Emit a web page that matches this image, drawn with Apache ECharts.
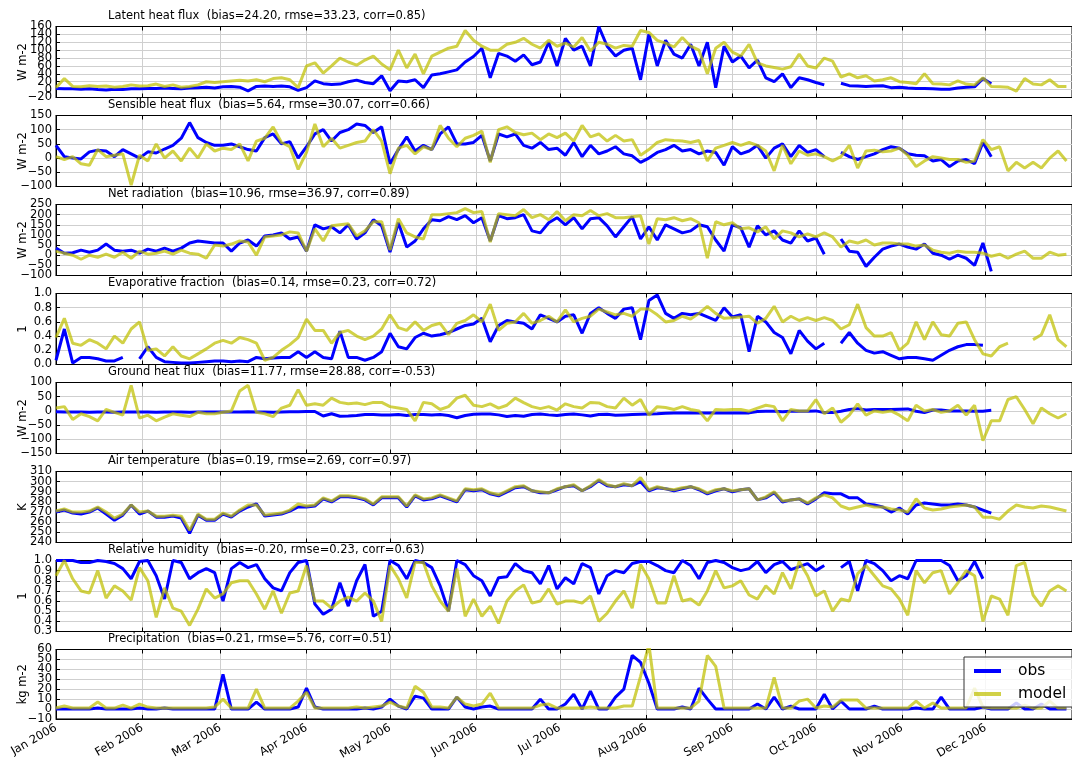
<!DOCTYPE html>
<html>
<head>
<meta charset="utf-8">
<script src="https://cdn.jsdelivr.net/npm/echarts@6/dist/echarts.min.js"></script>
<style>
html,body{margin:0;padding:0;background:#fff;}
#chart{width:1072px;height:762px;}
</style>
</head>
<body>
<div id="chart"></div>
<script>
// ---------- data (3-day samples starting 2006-01-01) ----------
const startDate = '2006-01-01';
const stepDays = 3;
const monthStarts = [0,31,59,90,120,151,181,212,243,273,304,334];
const monthLabels = ['Jan 2006','Feb 2006','Mar 2006','Apr 2006','May 2006','Jun 2006','Jul 2006','Aug 2006','Sep 2006','Oct 2006','Nov 2006','Dec 2006'];
const N = null;

const latentObs = [3,2,2,1,2,0,-1,1,0,2,2, 3,3,4,3,2,4,5,6,4, 7,8,6,-3,8,9,8,9,7,-2, 5,22,15,13,14,20,24,18,15,35,
 -3,22,20,25,5,37,40,45,50,70,84, 105,30,92,85,72,88,63,70,120,60, 130,100,110,60,160,110,85,100,105,25,
 140,60,125,90,80,115,60,120,5,110,70, 85,55,75,30,20,40,5,30,25,18, 12,N,16,10,9,8,9,10,5,6,
 4,3,3,2,1,1,4,6,7,28, 15,N,N,N,N,N,N,N,N,N];
const latentModel = [5,28,8,7,10,8,9,6,8,12,9, 10,14,8,12,6,8,12,20,18, 20,22,24,22,25,20,28,30,25,5, 60,68,42,60,80,70,62,75,85,65,
 50,100,55,90,40,85,95,105,110,150,125, 110,100,100,115,120,130,115,105,125,110, 118,108,132,98,120,115,105,112,110,150,
 145,125,118,108,132,110,100,40,105,120,95, 85,115,68,60,56,52,58,90,60,55, 80,72,32,40,30,35,22,25,30,20,
 18,15,40,15,14,12,22,14,12,30, 8,7,6,-4,28,14,12,25,8,8];

const sensibleObs = [45,5,0,-3,22,28,25,5,30,15,0, 22,18,32,45,70,125,72,55,45, 45,50,40,30,25,72,85,50,58,0, 40,85,100,60,90,100,120,115,90,110,
 -20,30,75,25,45,30,85,110,50,50,55, 80,-10,85,75,85,45,35,55,30,35, 10,55,5,45,15,25,40,15,8,-15,
 0,20,30,45,25,30,15,25,20,-25,40, 15,25,45,0,35,50,5,45,20,30, 5,N,20,5,-5,5,15,30,40,35,
 15,10,8,-10,-5,-30,-10,-5,-20,55, 5,N,N,N,N,N,N,N,N,N];
const sensibleModel = [5,-5,5,-20,-25,30,5,10,15,-95,10, -10,50,0,25,-10,35,0,50,25, 35,30,50,-10,60,70,110,55,40,-40, 20,120,40,70,35,45,55,60,100,60,
 -55,35,45,15,40,30,115,70,40,70,80, 95,-15,100,110,90,82,88,65,85,72, 88,60,115,75,85,60,80,60,65,10,
 30,55,65,62,60,55,62,-10,35,45,55, 45,55,45,25,-45,45,-20,25,10,15, 5,-10,5,45,-35,25,28,22,25,35,
 10,-30,-10,5,0,-5,-5,-15,-10,65, 30,40,-45,-15,-35,-15,-35,0,25,-10];

const netRadObs = [35,10,12,25,15,25,55,25,20,25,10, 30,20,35,20,35,60,70,65,60, 60,20,60,75,45,95,100,110,80,90, 20,150,130,140,110,150,80,110,175,145,
 15,160,40,70,130,175,170,190,175,195,160, 185,70,195,180,185,200,120,110,160,185, 150,185,130,180,185,145,90,140,190,80,
 140,75,150,130,110,120,150,140,75,20,150, 135,40,145,100,120,75,60,120,70,85, 5,N,80,20,15,-55,-10,30,45,55,
 40,30,55,10,0,-20,0,-15,-50,60, -80,N,N,N,N,N,N,N,N,N];
const netRadModel = [20,10,0,-20,0,-10,5,-10,15,-15,20, 5,10,20,5,25,10,5,-15,50, 45,55,70,65,0,90,95,100,115,110, 20,130,70,145,150,155,95,120,165,165,
 25,180,110,90,80,200,200,205,210,230,210, 215,65,205,200,195,225,185,200,175,215, 170,200,195,220,195,205,185,185,190,195,
 55,180,175,185,170,180,160,-15,165,150,160, 130,135,115,140,80,120,110,90,105,90, 110,90,40,70,60,75,50,60,60,55,
 55,45,50,25,15,10,20,15,15,10, -5,5,-15,5,20,-15,-15,15,0,5];

const evapObs = [0.06,0.5,0.02,0.1,0.1,0.08,0.05,0.05,0.1,N,0.08, 0.25,0.1,0.04,0.03,0.02,0.02,0.03,0.04,0.05, 0.05,0.04,0.05,0.04,0.1,0.08,0.09,0.1,0.1,0.18, 0.1,0.18,0.1,0.08,0.47,0.1,0.1,0.06,0.1,0.18,
 0.44,0.25,0.22,0.38,0.44,0.4,0.42,0.45,0.5,0.55,0.57, 0.65,0.32,0.55,0.62,0.6,0.58,0.5,0.7,0.65,0.6, 0.68,0.7,0.44,0.72,0.8,0.72,0.65,0.78,0.8,0.35,
 0.9,0.98,0.72,0.65,0.72,0.7,0.72,0.67,0.62,0.8,0.67, 0.7,0.18,0.68,0.6,0.45,0.38,0.15,0.48,0.33,0.22, 0.3,N,0.3,0.45,0.3,0.2,0.16,0.18,0.13,0.08,
 0.1,0.1,0.08,0.06,0.13,0.2,0.25,0.28,0.28,0.27, N,N,N,N,N,N,N,N,N,N];
const evapModel = [0.38,0.65,0.3,0.27,0.35,0.3,0.22,0.4,0.3,0.5,0.6, 0.2,0.22,0.12,0.25,0.12,0.08,0.15,0.22,0.3, 0.34,0.3,0.38,0.35,0.3,0.06,0.1,0.2,0.28,0.38, 0.64,0.48,0.48,0.3,0.45,0.48,0.4,0.35,0.4,0.5,
 0.7,0.52,0.48,0.6,0.48,0.55,0.58,0.42,0.58,0.62,0.7, 0.6,0.85,0.48,0.58,0.6,0.72,0.58,0.62,0.68,0.6, 0.77,0.6,0.65,0.68,0.78,0.74,0.7,0.72,0.68,0.78,
 0.78,0.7,0.6,0.62,0.68,0.64,0.72,0.82,0.72,0.65,0.66, 0.67,0.68,0.58,0.65,0.82,0.6,0.68,0.62,0.66,0.62, 0.66,0.62,0.5,0.56,0.85,0.52,0.4,0.4,0.45,0.2,
 0.3,0.6,0.35,0.6,0.42,0.4,0.58,0.6,0.35,0.15, 0.12,0.25,0.3,N,N,0.35,0.42,0.7,0.35,0.25];

const groundObs = [-3,-4,-4,-4,-5,-4,-4,-5,-4,-4,-4, -4,-5,-4,-4,-4,-5,-4,-4,-4, -4,-4,-4,-3,-4,-4,-5,-4,-3,-3, -2,-2,-18,-10,-19,-18,-16,-13,-13,-14,
 -14,-13,-16,-13,-13,-14,-13,-16,-24,-16,-12, -11,-11,-14,-20,-16,-19,-13,-11,-14,-16, -13,-11,-14,-18,-13,-12,-15,-14,-13,-12,
 -11,-10,-8,-7,-7,-7,-7,-7,-7,-7,-7, -7,-7,-2,-1,-1,-3,-1,-1,-1,0, -6,-6,-1,5,8,3,5,5,5,6,
 7,-1,-6,3,3,0,0,0,-1,-1, 2,N,N,N,N,N,N,N,N,N];
const groundModel = [10,15,-30,-10,-20,-35,5,-5,-15,90,-25, -15,-35,-22,-10,-15,-20,-5,-10,-10, -5,0,70,90,-5,-10,-20,10,20,75, 20,25,20,45,30,25,28,22,30,30,
 15,10,5,-35,30,25,5,15,45,55,20, 15,25,10,20,45,29,15,8,15,3, 25,15,10,30,28,15,10,45,20,40,
 -15,15,12,5,15,5,0,-35,5,3,5, 5,-1,10,20,15,-35,5,0,0,40, -10,10,-40,-15,25,-15,0,-5,0,-15,
 -35,20,0,5,-5,0,20,-15,20,-105, -35,-35,40,50,5,-45,10,-10,-25,-10];

const airTempObs = [270,272,269,268,270,274,268,262,267,277,268, 271,265,265,266,264,249,267,262,262, 268,265,271,275,278,266,267,268,271,275, 275,276,283,280,285,285,284,282,277,284,
 284,284,275,286,282,283,286,283,280,292,291, 292,288,286,290,294,295,291,289,289,292, 295,296,291,295,301,296,295,297,296,300,
 291,294,293,291,293,295,292,288,291,293,290, 292,293,282,284,289,280,282,283,278,283, 289,288,288,284,284,278,277,275,270,274,
 268,277,279,278,277,277,278,277,275,272, 269,N,N,N,N,N,N,N,N,N];
const airTempModel = [271,273,270,270,271,275,270,264,268,277,270, 271,266,266,267,266,252,268,263,263, 269,266,272,277,277,267,268,269,272,278, 276,277,284,281,286,286,285,283,278,285,
 285,285,276,287,283,284,287,284,281,293,292, 293,289,287,291,295,296,291,290,289,293, 295,297,291,296,302,297,295,298,296,304,
 292,295,293,292,294,295,293,289,292,293,291, 292,293,282,285,290,281,282,283,279,284, 287,284,276,273,275,277,275,275,273,272,
 270,283,274,272,273,275,276,277,275,265, 265,263,271,277,275,274,276,275,273,271];

const humidityObs = [1,1,1,0.98,0.98,1,0.99,0.97,0.92,0.82,0.99, 1,0.85,0.62,1,0.98,0.82,0.88,0.92,0.88, 0.6,0.92,0.98,0.93,0.96,0.82,0.73,0.7,0.88,0.98, 1,0.57,0.47,0.52,0.78,0.55,0.8,0.96,0.45,0.5,
 1,0.95,0.82,1,0.98,0.93,0.75,0.5,1,0.96,0.85, 0.8,0.65,0.83,0.84,0.97,0.9,0.88,0.77,0.95,0.72, 0.83,0.77,0.97,0.93,0.67,0.85,0.9,0.88,0.97,0.99,
 0.99,0.95,0.9,0.88,1,0.95,0.82,0.98,1,0.98,0.93, 0.9,0.92,0.99,0.88,0.96,0.99,0.91,0.94,0.97,0.9, 0.95,N,0.93,0.99,0.7,1,0.97,0.9,0.8,0.85,
 0.82,1,1,1,1,0.95,0.8,0.85,0.99,0.82, N,N,N,N,N,N,N,N,N,N];
const humidityModel = [0.85,1,0.82,0.7,0.68,0.9,0.63,0.75,0.7,0.61,0.93, 0.8,0.44,0.73,0.53,0.5,0.36,0.52,0.72,0.63, 0.67,0.78,0.8,0.8,0.67,0.52,0.7,0.48,0.68,0.7, 0.95,0.6,0.6,0.53,0.6,0.64,0.6,0.68,0.6,0.4,
 0.95,0.82,0.63,0.98,0.98,0.75,0.6,0.5,0.92,0.45,0.62, 0.45,0.55,0.38,0.6,0.7,0.76,0.58,0.6,0.72,0.57, 0.6,0.6,0.58,0.65,0.4,0.48,0.6,0.7,0.53,0.96,
 0.82,0.58,0.58,0.85,0.6,0.62,0.56,0.7,0.9,0.73,0.75, 0.8,0.66,0.62,0.75,0.67,0.88,0.72,0.99,0.85,0.65, 0.7,0.5,0.62,0.6,0.87,0.95,0.85,0.75,0.72,0.62,
 0.46,0.9,0.78,0.88,0.9,0.67,0.78,0.9,0.85,0.4, 0.65,0.62,0.46,0.95,0.98,0.66,0.55,0.7,0.75,0.7];

const precipObs = [0,0,0,0,0,1,0,0,0,0,1, 0,0,1,0,0,0,0,0,0, 35,0,0,0,7,0,0,0,0,2, 21,2,0,0,0,0,0,1,0,2,
 10,3,0,13,11,0,0,0,12,2,0, 2,3,0,0,0,0,0,10,0,0, 5,15,0,18,0,0,12,20,54,47,
 26,0,0,0,2,0,21,10,0,0,0, 0,0,5,0,12,0,3,0,0,0, 15,0,8,0,0,0,3,0,0,0,
 0,1,0,0,12,0,0,0,0,2, 0,0,0,6,0,0,5,0,0,0];
const precipModel = [1,3,1,1,1,7,1,1,4,1,5, 2,1,1,1,1,1,1,1,2, 10,1,1,1,20,1,1,1,1,8, 17,1,1,1,1,1,2,1,2,3,
 7,3,1,23,17,2,2,1,12,5,3, 5,16,1,1,1,1,1,4,5,1, 1,1,1,2,1,1,1,3,3,33,
 65,1,1,1,1,1,8,54,43,1,1, 1,1,1,1,32,1,1,8,10,1, 3,2,9,9,9,1,1,1,1,1,
 1,8,1,6,1,1,1,1,21,2, 1,1,1,1,4,1,1,8,1,1];

// ---------- panel definitions ----------
const panels = [
  {title:'Latent heat flux  (bias=24.20, rmse=33.23, corr=0.85)', unit:'W m-2', min:-20, max:160, step:20, dec:0, obs:latentObs, mod:latentModel},
  {title:'Sensible heat flux  (bias=5.64, rmse=30.07, corr=0.66)', unit:'W m-2', min:-100, max:150, step:50, dec:0, obs:sensibleObs, mod:sensibleModel},
  {title:'Net radiation  (bias=10.96, rmse=36.97, corr=0.89)', unit:'W m-2', min:-100, max:250, step:50, dec:0, obs:netRadObs, mod:netRadModel},
  {title:'Evaporative fraction  (bias=0.14, rmse=0.23, corr=0.72)', unit:'1', min:0, max:1, step:0.2, dec:1, obs:evapObs, mod:evapModel},
  {title:'Ground heat flux  (bias=11.77, rmse=28.88, corr=-0.53)', unit:'W m-2', min:-150, max:100, step:50, dec:0, obs:groundObs, mod:groundModel},
  {title:'Air temperature  (bias=0.19, rmse=2.69, corr=0.97)', unit:'K', min:240, max:310, step:10, dec:0, obs:airTempObs, mod:airTempModel},
  {title:'Relative humidity  (bias=-0.20, rmse=0.23, corr=0.63)', unit:'1', min:0.3, max:1.0, step:0.1, dec:1, obs:humidityObs, mod:humidityModel},
  {title:'Precipitation  (bias=0.21, rmse=5.76, corr=0.51)', unit:'kg m-2', min:-10, max:60, step:10, dec:0, obs:precipObs, mod:precipModel}
];

const days = latentObs.map((_, i) => i * stepDays);
const FONT = 'DejaVu Sans';
const OBS_COLOR = '#0000ff';
const MOD_COLOR = 'rgba(191,191,0,0.72)';
const GRID_COLOR = '#cfcfcf';
const LEFT = 56, PW = 1030.4, TOP0 = 26.5, PITCH = 89.0, PH = 71;

const fmtNum = (v, dec) => {
  const s = Math.abs(v).toFixed(dec);
  return (v < -1e-9 ? '\u2212' : '') + s;
};
// tick positions of an axis (from its min/max/step), split into alternating sets
const tickList = p => {
  const out = [];
  const n = Math.round((p.max - p.min) / p.step);
  for (let i = 0; i <= n; i++) out.push(+(p.min + i * p.step).toFixed(6));
  return out;
};

const grids = [], xAxes = [], yAxes = [], series = [], titles = [];
panels.forEach((p, k) => {
  const top = TOP0 + PITCH * k;
  const ticks = tickList(p);
  const evenTicks = ticks.filter((_, i) => i % 2 === 0);
  const oddTicks = ticks.filter((_, i) => i % 2 === 1);
  grids.push({left: LEFT, top: top, width: PW, height: PH, show: true, borderColor: '#000', borderWidth: 1, backgroundColor: 'transparent'});
  titles.push({text: p.title, left: 108, top: top - 16.5, padding: 0,
    textStyle: {fontFamily: FONT, fontSize: 11.5, fontWeight: 'normal', color: '#000'}});
  const isLast = k === panels.length - 1;
  xAxes.push({
    type: 'value', gridIndex: k, min: 0, max: 365, position: 'bottom',
    axisLine: {show: true, onZero: false, lineStyle: {color: '#000', width: 1}},
    axisTick: {show: true, inside: true, length: 4, customValues: monthStarts, lineStyle: {color: '#000'}},
    axisLabel: {show: isLast, customValues: monthStarts, rotate: 30, fontFamily: FONT, fontSize: 11.5, color: '#000', margin: 8,
      formatter: v => { const i = monthStarts.indexOf(Math.round(v)); return i >= 0 ? monthLabels[i] : ''; }},
    splitLine: {show: true, lineStyle: {color: GRID_COLOR, width: 1}}
  });
  xAxes.push({
    type: 'value', gridIndex: k, min: 0, max: 365, position: 'top',
    axisLine: {show: true, onZero: false, lineStyle: {color: '#000', width: 1}},
    axisTick: {show: true, inside: true, length: 4, customValues: monthStarts, lineStyle: {color: '#000'}},
    axisLabel: {show: false}, splitLine: {show: false}
  });
  const labelBase = {fontFamily: FONT, fontSize: 11.5, color: '#000', margin: 4,
    showMinLabel: true, showMaxLabel: true, formatter: v => fmtNum(v, p.dec)};
  yAxes.push({
    type: 'value', gridIndex: k, min: p.min, max: p.max, interval: p.step, position: 'left', offset: 0,
    name: p.unit, nameLocation: 'middle', nameRotate: 90, nameGap: 27, nameMoveOverlap: false,
    nameTextStyle: {fontFamily: FONT, fontSize: 11.5, color: '#000'},
    axisLine: {show: true, onZero: false, lineStyle: {color: '#000', width: 1}},
    axisTick: {show: true, inside: true, length: 4, lineStyle: {color: '#000'}},
    axisLabel: Object.assign({customValues: evenTicks}, labelBase),
    splitLine: {show: true, lineStyle: {color: GRID_COLOR, width: 1}}
  });
  yAxes.push({
    type: 'value', gridIndex: k, min: p.min, max: p.max, interval: p.step, position: 'left', offset: 0,
    axisLine: {show: false}, axisTick: {show: false}, splitLine: {show: false},
    axisLabel: Object.assign({customValues: oddTicks}, labelBase)
  });
  series.push({
    name: 'obs', type: 'line', xAxisIndex: 2 * k, yAxisIndex: 2 * k,
    data: days.map((d, i) => [d, p.obs[i]]),
    showSymbol: false, connectNulls: false, z: 2,
    lineStyle: {color: OBS_COLOR, width: 3}, itemStyle: {color: OBS_COLOR}
  });
  series.push({
    name: 'model', type: 'line', xAxisIndex: 2 * k, yAxisIndex: 2 * k,
    data: days.map((d, i) => [d, p.mod[i]]),
    showSymbol: false, connectNulls: false, z: 3,
    lineStyle: {color: MOD_COLOR, width: 3}, itemStyle: {color: MOD_COLOR}
  });
});

const chart = echarts.init(document.getElementById('chart'), null, {renderer: 'canvas'});
chart.setOption({
  animation: false,
  backgroundColor: '#fff',
  title: titles,
  grid: grids,
  xAxis: xAxes,
  yAxis: yAxes,
  legend: {
    data: [{name: 'obs', icon: 'rect'}, {name: 'model', icon: 'rect'}],
    orient: 'vertical', left: 964, top: 657,
    itemWidth: 27, itemHeight: 4, itemGap: 7,
    padding: [6, 10, 5, 10],
    backgroundColor: 'rgba(255,255,255,0.8)', borderColor: '#333', borderWidth: 1,
    selectedMode: false,
    textStyle: {fontFamily: FONT, fontSize: 15.5, color: '#000', padding: [0, 0, 0, 12]}
  },
  series: series
});
</script>
</body>
</html>
